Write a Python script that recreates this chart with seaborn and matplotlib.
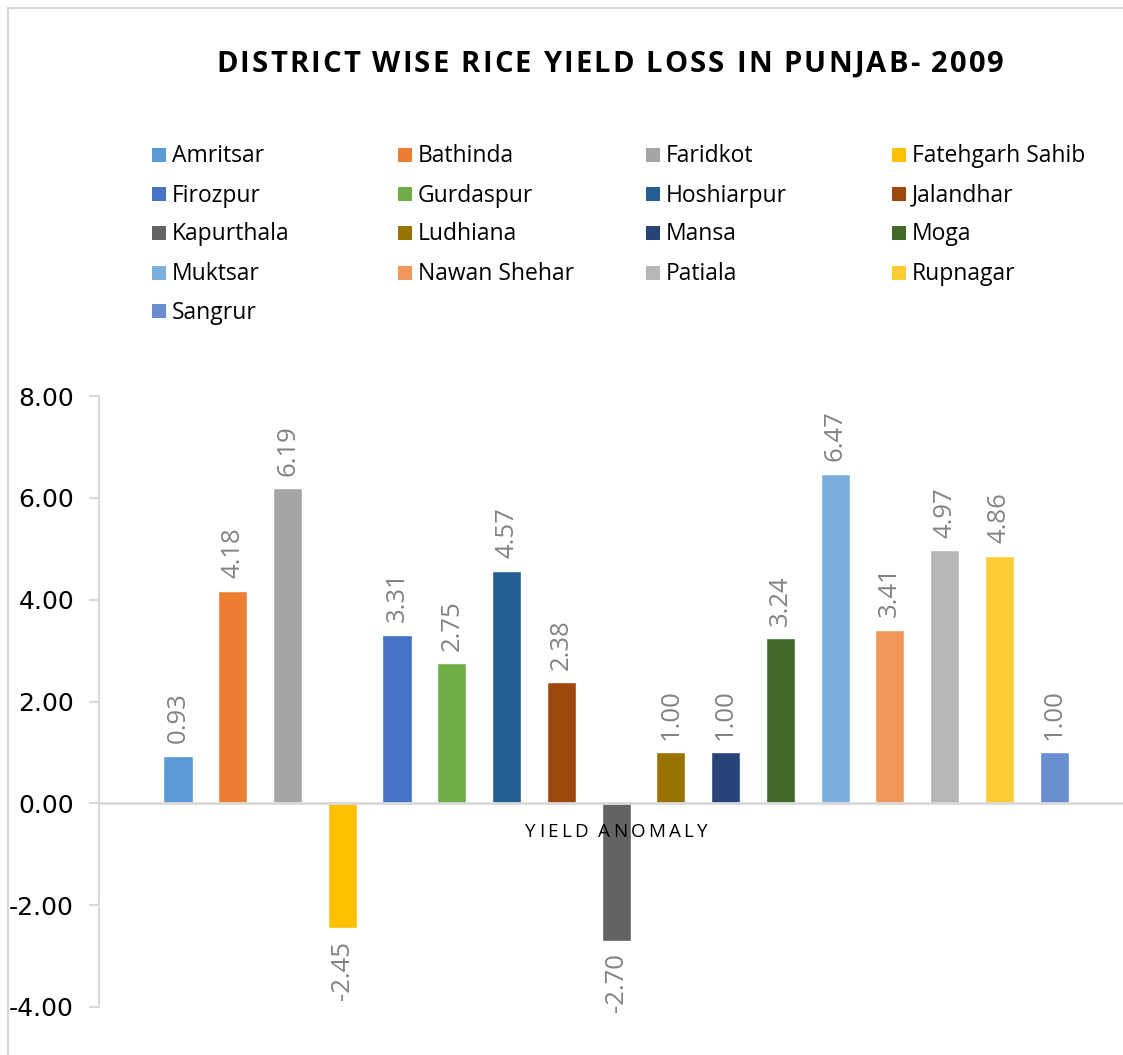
import matplotlib
matplotlib.use("Agg")
import matplotlib.pyplot as plt
from matplotlib.patches import Rectangle
import numpy as np
import pandas as pd
import seaborn as sns

# ---- data -------------------------------------------------------------
districts = ["Amritsar", "Bathinda", "Faridkot", "Fatehgarh Sahib", "Firozpur",
             "Gurdaspur", "Hoshiarpur", "Jalandhar", "Kapurthala", "Ludhiana",
             "Mansa", "Moga", "Muktsar", "Nawan Shehar", "Patiala", "Rupnagar",
             "Sangrur"]
anomaly = [0.93, 4.18, 6.19, -2.45, 3.31, 2.75, 4.57, 2.38, -2.70, 1.00,
           1.00, 3.24, 6.47, 3.41, 4.97, 4.86, 1.00]
colors = ["#5B9BD5", "#ED7D31", "#A5A5A5", "#FFC000", "#4472C4", "#70AD47",
          "#255E91", "#9E480E", "#636363", "#997300", "#264478", "#43682B",
          "#7CAFDD", "#F1975A", "#B7B7B7", "#FFCD33", "#698ED0"]
y_ticks = [-4, -2, 0, 2, 4, 6, 8]
title = "DISTRICT WISE RICE YIELD LOSS IN PUNJAB- 2009"
category = "YIELD ANOMALY"

# ---- figure -----------------------------------------------------------
sns.set_theme(style="white")
plt.rcParams["font.family"] = ["Open Sans", "DejaVu Sans"]

W, H = 1123, 1055
fig = plt.figure(figsize=(W / 100, H / 100), dpi=100)
fig.patch.set_facecolor("white")

# light frame around the chart area
fig.add_artist(Rectangle((8 / W, -0.05), 1.2, 1 - 8 / H + 0.05,
                         transform=fig.transFigure, fill=False,
                         edgecolor="#D9D9D9", lw=1.5))

ax = fig.add_axes([99 / W, 48 / H, 1 - 99 / W, (1007 - 396) / H])

df = pd.DataFrame({"District": districts, "Anomaly": anomaly})
sns.barplot(data=df, x="District", y="Anomaly", hue="District",
            order=districts, hue_order=districts,
            palette=dict(zip(districts, colors)), saturation=1,
            width=0.53, legend=False, ax=ax)

ax.set_xlim(-1.443, 17.26)
ax.set_ylim(-4, 8)
ax.set_xlabel("")
ax.set_ylabel("")
ax.set_xticks([])
ax.set_yticks(y_ticks)
ax.set_yticklabels([f"{v:.2f}" for v in y_ticks])
ax.tick_params(axis="y", left=True, length=7, width=1.5, color="#D9D9D9",
               direction="out", pad=11, labelsize=18, labelcolor="black")
for lab in ax.get_yticklabels():
    lab.set_fontfamily("DejaVu Sans")

for side in ("top", "right"):
    ax.spines[side].set_visible(False)
ax.spines["left"].set_color("#D9D9D9")
ax.spines["left"].set_linewidth(1.5)
ax.spines["bottom"].set_position(("data", 0))
ax.spines["bottom"].set_color("#D9D9D9")
ax.spines["bottom"].set_linewidth(2)
ax.grid(False)

for cont in ax.containers:
    ax.bar_label(cont, fmt="%.2f", padding=9, rotation=90,
                 color="#838383", fontsize=18.5)


# ---- letter-spaced text helper ---------------------------------------
def spaced_text(cx, baseline, text, total_w, **kw):
    """Draw text centred at cx (px) with even extra letter spacing."""
    r = fig.canvas.get_renderer()
    size_px = kw.get("fontsize", 12) * fig.dpi / 72
    widths = []
    for ch in text:
        if ch == " ":
            widths.append(0.26 * size_px)
            continue
        t = fig.text(0, 0, ch, **kw)
        widths.append(t.get_window_extent(r).width)
        t.remove()
    gap = (total_w - sum(widths)) / (len(text) - 1)
    x = cx - total_w / 2
    for ch, w in zip(text, widths):
        if ch != " ":
            fig.text(x / W, 1 - baseline / H, ch, ha="left", va="baseline", **kw)
        x += w + gap


spaced_text(610, 72, title, 788, fontsize=21, fontweight="bold",
            color="black")

cx_px = ax.transData.transform((np.mean(range(len(districts))), 0))[0]
spaced_text(cx_px, 837, category, 182, fontsize=13.5, color="black")

# ---- legend (4 columns) ----------------------------------------------
col_x = [152, 398, 646, 892]
row_y = [155, 194, 233, 272.5, 311]
for i, (name, c) in enumerate(zip(districts, colors)):
    r_, c_ = divmod(i, 4)
    x0, yc = col_x[c_], row_y[r_]
    fig.add_artist(Rectangle((x0 / W, 1 - (yc + 7) / H), 14 / W, 14 / H,
                             transform=fig.transFigure, color=c, lw=0))
    fig.text((x0 + 20) / W, 1 - (yc + 7.5) / H, name, ha="left",
             va="baseline", fontsize=16.5, color="black")

fig.savefig("out.png", dpi=100, facecolor="white")
